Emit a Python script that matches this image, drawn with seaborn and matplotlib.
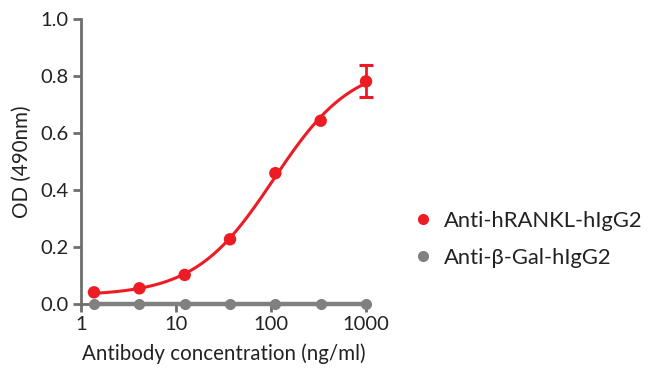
import numpy as np
import pandas as pd
import matplotlib
matplotlib.use("Agg")
import matplotlib.pyplot as plt
import seaborn as sns
from matplotlib.lines import Line2D
from matplotlib.ticker import FixedLocator, NullLocator

# ---- data ----
concentration = [1.37, 4.12, 12.35, 37.04, 111.1, 333.3, 1000.0]
od_rankl = [0.041, 0.055, 0.102, 0.227, 0.459, 0.643, 0.781]
err_rankl = [0.0, 0.0, 0.0, 0.0, 0.0, 0.0, 0.056]
od_bgal = [0.0, 0.0, 0.0, 0.0, 0.0, 0.0, 0.0]
series_names = ["Anti-hRANKL-hIgG2", "Anti-\u03b2-Gal-hIgG2"]
x_ticks = [1, 10, 100, 1000]
x_ticklabels = ["1", "10", "100", "1000"]
y_ticks = [0.0, 0.2, 0.4, 0.6, 0.8, 1.0]

RED = "#ED1C24"
GRAY = "#808080"
AX = "#6E6E6E"
TXT = "#222222"

sns.set_theme(style="white")
plt.rcParams["font.family"] = ["Lato", "DejaVu Sans"]
plt.rcParams["font.weight"] = "normal"

# ---- 4PL fit of the red series (Levenberg-Marquardt in numpy) ----
xd = np.array(concentration)
yd = np.array(od_rankl)

def f4(p, x):
    b, t, lc, h = p
    return b + (t - b) / (1.0 + 10 ** ((lc - np.log10(x)) * h))

p = np.array([0.03, 0.9, 2.1, 1.0])
lam = 1e-2
for _ in range(300):
    r = yd - f4(p, xd)
    J = np.zeros((len(xd), 4))
    for k in range(4):
        dp = np.zeros(4); dp[k] = 1e-6
        J[:, k] = (f4(p + dp, xd) - f4(p - dp, xd)) / 2e-6
    A = J.T @ J
    step = np.linalg.solve(A + lam * np.diag(np.diag(A)), J.T @ r)
    pn = p + step
    if np.sum((yd - f4(pn, xd)) ** 2) < np.sum(r ** 2):
        p = pn; lam *= 0.5
    else:
        lam *= 4

xs = np.logspace(np.log10(xd.min()), np.log10(xd.max()), 300)
curve = pd.DataFrame({"x": xs, "y": f4(p, xs)})
pts = pd.DataFrame({"x": concentration, "rankl": od_rankl, "bgal": od_bgal,
                    "err": err_rankl})
eb = pts[pts["err"] > 0]

fig = plt.figure(figsize=(6.5, 3.74), dpi=100)
ax = fig.add_axes([0.1246, 0.1872, 0.4385, 0.762])

sns.lineplot(data=pts, x="x", y="bgal", ax=ax, color=GRAY, lw=3.2, marker="o",
             markersize=8, markeredgewidth=0, clip_on=False, zorder=3)
sns.lineplot(data=curve, x="x", y="y", ax=ax, color=RED, lw=2.2, zorder=4)
ax.errorbar(eb["x"], eb["rankl"], yerr=eb["err"],
            fmt="none", ecolor=RED, elinewidth=2, capsize=5, capthick=2.2,
            zorder=4, clip_on=False)
sns.scatterplot(data=pts, x="x", y="rankl", ax=ax, color=RED, s=80,
                edgecolor="none", zorder=5, clip_on=False)

ax.set_xscale("log")
ax.set_xlim(1, 1000)
ax.set_ylim(0, 1.0)
ax.xaxis.set_major_locator(FixedLocator(x_ticks))
ax.xaxis.set_minor_locator(NullLocator())
ax.set_xticklabels(x_ticklabels)
ax.set_yticks(y_ticks)
ax.set_yticklabels([f"{v:.1f}" for v in y_ticks])

for s in ["top", "right"]:
    ax.spines[s].set_visible(False)
for s in ["left", "bottom"]:
    ax.spines[s].set_color(AX)
    ax.spines[s].set_linewidth(2)
ax.tick_params(axis="both", direction="out", length=6, width=2, color=AX,
               labelsize=14.5, labelcolor=TXT, pad=3)
ax.tick_params(axis="x", bottom=True)
ax.tick_params(axis="y", left=True)

ax.set_xlabel("Antibody concentration (ng/ml)", fontsize=14.8, color=TXT, labelpad=7)
ax.set_ylabel("OD (490nm)", fontsize=14.8, color=TXT, labelpad=6)

handles = [Line2D([], [], ls="none", marker="o", color=RED, markersize=8, markeredgewidth=0),
           Line2D([], [], ls="none", marker="o", color=GRAY, markersize=8, markeredgewidth=0)]
fig.legend(handles, series_names, loc="center left", bbox_to_anchor=(0.603, 0.36),
           frameon=False, fontsize=15.8, handletextpad=0.45, labelspacing=0.75,
           handlelength=1.0, labelcolor=TXT)

fig.savefig("out.png", dpi=100)
